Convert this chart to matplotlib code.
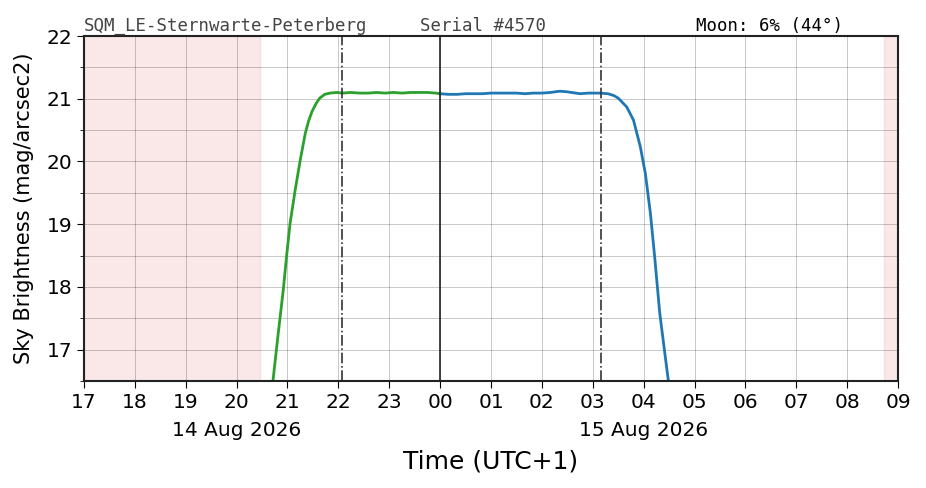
import matplotlib
matplotlib.use('Agg')
import matplotlib.pyplot as plt
import matplotlib.dates as mdates
import pandas as pd

# evening (14 Aug) and morning (15 Aug) readings
evening_times = ['20:40', '20:43', '20:49', '20:55', '20:59', '21:03', '21:09', '21:15',
                 '21:21', '21:25', '21:29', '21:34', '21:38', '21:44', '21:50', '21:58',
                 '22:05', '22:15', '22:25', '22:35', '22:45', '22:55', '23:05', '23:15',
                 '23:25', '23:35', '23:45', '23:55']
evening_mag = [16.10, 16.52, 17.25, 17.95, 18.50, 19.01, 19.54, 20.02,
               20.45, 20.65, 20.80, 20.93, 21.01, 21.07, 21.09, 21.10,
               21.09, 21.10, 21.09, 21.09, 21.10, 21.09, 21.10, 21.09,
               21.10, 21.10, 21.10, 21.09]

morning_times = ['00:00', '00:10', '00:20', '00:30', '00:40', '00:50', '01:00', '01:10',
                 '01:20', '01:30', '01:40', '01:50', '02:00', '02:10', '02:21', '02:30',
                 '02:45', '02:55', '03:08', '03:18', '03:25', '03:30', '03:40', '03:48',
                 '03:56', '04:02', '04:08', '04:13', '04:19', '04:25', '04:29', '04:32']
morning_mag = [21.08, 21.07, 21.07, 21.08, 21.08, 21.08, 21.09, 21.09,
               21.09, 21.09, 21.08, 21.09, 21.09, 21.10, 21.12, 21.11,
               21.08, 21.09, 21.09, 21.08, 21.05, 21.01, 20.87, 20.66,
               20.24, 19.81, 19.17, 18.48, 17.58, 16.94, 16.52, 16.10]

date_labels = ['14 Aug 2026', '15 Aug 2026']
date_label_times = ['2026-08-14 20:00', '2026-08-15 04:00']

day1 = '2026-08-14 '
day2 = '2026-08-15 '
x_start = pd.Timestamp(day1 + '17:00')
x_end = pd.Timestamp(day2 + '09:00')
sun_set = pd.Timestamp(day1 + '20:28')
sun_rise = pd.Timestamp(day2 + '08:43')
twilight_evening = pd.Timestamp(day1 + '22:04')
twilight_morning = pd.Timestamp(day2 + '03:10')
midnight = pd.Timestamp(day2 + '00:00')

t_evening = pd.to_datetime([day1 + t for t in evening_times])
t_morning = pd.to_datetime([day2 + t for t in morning_times])

fig = plt.figure(figsize=(9.26, 4.88), dpi=100)
ax = fig.add_axes([0.0907, 0.2193, 0.8791, 0.7069])

ax.axvspan(x_start, sun_set, color='tab:red', alpha=0.1)
ax.axvspan(sun_rise, x_end, color='tab:red', alpha=0.1)

ax.plot(list(t_evening) + [midnight], evening_mag + [morning_mag[0]], color='tab:green', lw=2)
ax.plot(t_morning, morning_mag, color='tab:blue', lw=2)

ax.axvline(twilight_evening, color='#333333', ls='-.', lw=1.2)
ax.axvline(twilight_morning, color='#333333', ls='-.', lw=1.2)
ax.axvline(midnight, color='#222222', ls='-', lw=1.2)

ax.set_xlim(x_start, x_end)
ax.set_ylim(16.5, 22)
ax.set_yticks([17, 18, 19, 20, 21, 22])
ax.set_yticks([16.5, 17.5, 18.5, 19.5, 20.5, 21.5], minor=True)

ax.xaxis.set_major_locator(mdates.HourLocator())
ax.xaxis.set_major_formatter(mdates.DateFormatter('%H'))
ax.tick_params(axis='both', which='major', labelsize=14.5, length=5)
ax.tick_params(axis='y', which='minor', length=3)
ax.grid(True, which='major', color='k', alpha=0.25, lw=0.6)
ax.grid(True, which='minor', axis='y', color='k', alpha=0.25, lw=0.6)

for s in ax.spines.values():
    s.set_linewidth(1.5)
    s.set_color('#222222')

# dates under the hour labels
for lab, t in zip(date_labels, date_label_times):
    ax.annotate(lab, xy=(pd.Timestamp(t), 0), xycoords=('data', 'axes fraction'),
                xytext=(0, -29), textcoords='offset points', ha='center', va='top',
                fontsize=14.5)

ax.set_ylabel('Sky Brightness (mag/arcsec2)', fontsize=15, labelpad=9)
ax.set_xlabel('Time (UTC+1)', fontsize=18, labelpad=27)

ax.text(0.0, 1.003, 'SQM_LE-Sternwarte-Peterberg', transform=ax.transAxes,
        family='DejaVu Sans Mono', fontsize=12.5, color='#444444', va='bottom')
ax.text(0.413, 1.003, 'Serial #4570', transform=ax.transAxes,
        family='DejaVu Sans Mono', fontsize=12.5, color='#444444', va='bottom')
ax.text(0.752, 1.003, 'Moon: 6% (44°)', transform=ax.transAxes,
        family='DejaVu Sans Mono', fontsize=12.5, color='black', va='bottom')

fig.savefig('out.png', dpi=100)
